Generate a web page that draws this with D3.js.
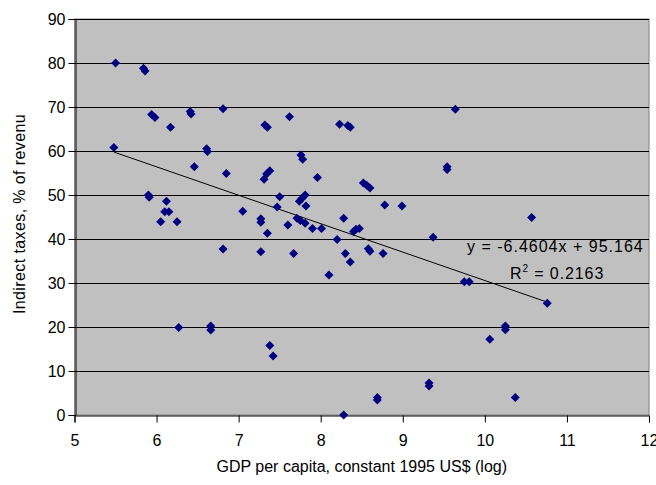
<!DOCTYPE html>
<html>
<head>
<meta charset="utf-8">
<script src="https://cdn.jsdelivr.net/npm/d3@7"></script>
<style>
  html, body { margin: 0; padding: 0; background: #fff; }
  svg { display: block; }
  text { font-family: "Liberation Sans", Arial, sans-serif; fill: #000; }
</style>
</head>
<body>
<svg id="chart" width="656" height="485"></svg>
<script>
// ---- data ----
const gdpLog = [
  5.50, 5.84, 5.86, 5.94, 5.98, 6.17, 6.41, 6.42, 6.81, 5.48,
  6.61, 6.62, 6.46, 6.85, 5.90, 5.91, 6.12, 6.10, 6.15, 6.05,
  6.25, 7.05, 6.81, 6.27, 6.66, 6.66,
  7.32, 7.35, 7.62, 8.23, 8.33, 8.36, 7.76, 7.78, 7.38, 7.34,
  7.31, 7.96, 8.52, 8.56, 8.60, 7.50, 7.47, 7.81, 7.74, 7.77,
  7.82, 8.78, 7.27, 7.27, 7.60, 7.71, 7.75, 7.81, 7.90, 8.01,
  8.28, 8.40, 8.43, 8.47, 7.35, 8.20, 8.58, 8.60, 8.76, 7.27,
  7.67, 8.30, 8.36, 8.10,
  7.38, 7.42, 8.69, 8.69, 8.28,
  9.64, 9.54, 9.54, 8.99, 10.57, 9.37, 9.75, 9.81, 10.76, 10.25,
  10.25, 10.06, 9.32, 9.32, 10.37
];
const indirectTax = [
  80.0, 78.8, 78.2, 68.3, 67.6, 65.4, 69.0, 68.4, 69.6, 60.8,
  60.5, 59.9, 56.4, 54.9, 50.0, 49.5, 48.6, 46.2, 46.2, 43.9,
  43.9, 46.3, 37.7, 19.9, 20.2, 19.3,
  65.9, 65.4, 67.8, 66.1, 65.8, 65.4, 59.1, 58.1, 55.5, 54.8,
  53.6, 54.0, 52.7, 52.2, 51.6, 49.6, 47.3, 50.0, 48.6, 49.2,
  47.5, 47.7, 44.6, 43.8, 43.2, 44.7, 44.2, 43.6, 42.4, 42.4,
  44.7, 41.7, 42.2, 42.4, 41.3, 39.9, 37.8, 37.2, 36.7, 37.1,
  36.7, 36.7, 34.8, 31.8,
  15.8, 13.4, 4.0, 3.4, 0.0,
  69.5, 56.4, 55.8, 47.5, 44.9, 40.4, 30.3, 30.3, 25.4, 20.2,
  19.4, 17.2, 7.3, 6.6, 4.0
];
const trendSlope = -6.4604;
const trendIntercept = 95.164;
const equationLabel = "y = -6.4604x + 95.164";
const r2Label = "0.2163";
const xTicks = [5, 6, 7, 8, 9, 10, 11, 12];
const yTicks = [0, 10, 20, 30, 40, 50, 60, 70, 80, 90];
const xTitle = "GDP per capita, constant 1995 US$ (log)";
const yTitle = "Indirect taxes, % of revenu";

// ---- drawing ----
const svg = d3.select("#chart");
const pLeft = 74.5, pRight = 649, pTop = 19, pBottom = 415;

const x = d3.scaleLinear().domain([5, 12]).range([pLeft, pRight]);
const y = d3.scaleLinear().domain([0, 90]).range([pBottom, pTop]);

// plot area
svg.append("rect")
  .attr("x", pLeft).attr("y", pTop)
  .attr("width", pRight - pLeft).attr("height", pBottom - pTop)
  .attr("fill", "#c0c0c0")
  .attr("stroke", "#808080").attr("stroke-width", 1);

// gridlines
svg.append("g")
  .selectAll("line")
  .data(yTicks.filter(d => d > 0))
  .join("line")
  .attr("x1", pLeft).attr("x2", pRight)
  .attr("y1", d => Math.round(y(d)) + 0.5)
  .attr("y2", d => Math.round(y(d)) + 0.5)
  .attr("stroke", "#000").attr("stroke-width", 1);

// axes
const yAxis = d3.axisLeft(y).tickValues(yTicks).tickSizeOuter(0).tickSize(7).tickPadding(3);
const gy = svg.append("g").attr("transform", `translate(${Math.round(pLeft) + 0.5},0)`).call(yAxis);
gy.selectAll("text").style("font-size", "16px").style("font-family", '"Liberation Sans", Arial, sans-serif');
gy.selectAll("line,path").attr("stroke", "#000");

const xAxis = d3.axisBottom(x).tickValues(xTicks).tickFormat(d3.format("d")).tickSizeOuter(0).tickSize(7).tickPadding(12);
const gx = svg.append("g").attr("transform", `translate(0,${pBottom + 0.5})`).call(xAxis);
gx.selectAll("text").style("font-size", "16px").style("font-family", '"Liberation Sans", Arial, sans-serif');
gx.selectAll("line,path").attr("stroke", "#000");

// trend line over data range
const xMin = d3.min(gdpLog), xMax = d3.max(gdpLog);
svg.append("line")
  .attr("x1", x(xMin)).attr("y1", y(trendSlope * xMin + trendIntercept))
  .attr("x2", x(xMax)).attr("y2", y(trendSlope * xMax + trendIntercept))
  .attr("stroke", "#000").attr("stroke-width", 1);

// points
const pts = gdpLog.map((g, i) => ({ g, t: indirectTax[i] }));
svg.append("g")
  .selectAll("path")
  .data(pts)
  .join("path")
  .attr("transform", d => `translate(${x(d.g)},${y(d.t)})`)
  .attr("d", "M0,-4.5L4.5,0L0,4.5L-4.5,0Z")
  .attr("fill", "#000080");

// equation labels
svg.append("text")
  .attr("x", 467).attr("y", 252)
  .style("font-size", "16px").style("letter-spacing", "1px")
  .text(equationLabel);
const r2 = svg.append("text")
  .attr("x", 510).attr("y", 279)
  .style("font-size", "16px").style("letter-spacing", "0.9px");
r2.append("tspan").text("R");
r2.append("tspan").attr("dy", -7).style("font-size", "10px").text("2");
r2.append("tspan").attr("dy", 7).text(" = " + r2Label);

// axis titles
svg.append("text")
  .attr("x", (pLeft + pRight) / 2).attr("y", 472)
  .attr("text-anchor", "middle")
  .style("font-size", "16px")
  .text(xTitle);

svg.append("text")
  .attr("transform", `translate(25,214) rotate(-90)`)
  .attr("text-anchor", "middle")
  .style("font-size", "16px").style("letter-spacing", "0.4px")
  .text(yTitle);
</script>
</body>
</html>
